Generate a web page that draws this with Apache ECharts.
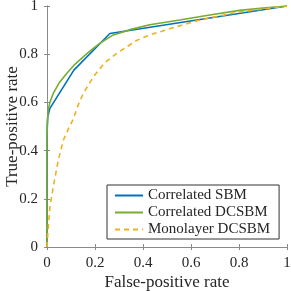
<!DOCTYPE html>
<html><head><meta charset="utf-8">
<script src="https://cdn.jsdelivr.net/npm/echarts@6/dist/echarts.min.js"></script>
<style>html,body{margin:0;padding:0;background:#fff}#c{width:291px;height:291px}</style>
</head><body><div id="c"></div>
<script>
const seriesNames = ['Correlated SBM', 'Correlated DCSBM', 'Monolayer DCSBM'];
const sbmFpr = [0, 0.001, 0.003, 0.012, 0.112, 0.262, 1];
const sbmTpr = [0, 0.50, 0.54, 0.575, 0.734, 0.886, 1];
const dcFpr = [0, 0, 0.002, 0.005, 0.012, 0.026, 0.05, 0.082, 0.115, 0.151, 0.185, 0.22, 0.276, 0.35, 0.428, 0.553, 0.678, 0.802, 0.9, 1];
const dcTpr = [0, 0.45, 0.52, 0.568, 0.60, 0.637, 0.68, 0.72, 0.757, 0.789, 0.818, 0.845, 0.88, 0.903, 0.922, 0.942, 0.963, 0.982, 0.992, 1];
const monoFpr = [0, 0.003, 0.012, 0.026, 0.047, 0.068, 0.089, 0.109, 0.13, 0.151, 0.193, 0.241, 0.29, 0.373, 0.428, 0.539, 0.636, 0.8, 1];
const monoTpr = [0, 0.05, 0.165, 0.249, 0.36, 0.443, 0.49, 0.53, 0.59, 0.637, 0.706, 0.765, 0.803, 0.857, 0.88, 0.914, 0.942, 0.975, 1];
const xTitle = 'False-positive rate';
const yTitle = 'True-positive rate';

const zip = (a, b) => a.map((v, i) => [v, b[i]]);
const font = 'Liberation Serif';
const axisCol = '#8a8a8a';
const txt = '#262626';
const baseAxis = {
  type: 'value', min: 0, max: 1, interval: 0.2,
  axisLine: {show: true, lineStyle: {color: axisCol, width: 1}},
  axisTick: {show: true, inside: true, length: 3, lineStyle: {color: axisCol}},
  splitLine: {show: false}
};
const chart = echarts.init(document.getElementById('c'));
chart.setOption({
  animation: false,
  textStyle: {fontFamily: font},
  grid: {left: 47, right: 4, top: 6, bottom: 44, containLabel: false, outerBoundsMode: 'none'},
  xAxis: [
    Object.assign({}, baseAxis, {position: 'bottom', name: xTitle, nameLocation: 'middle', nameGap: 27, nameMoveOverlap: false,
      nameTextStyle: {fontFamily: font, fontSize: 17, color: txt},
      axisLabel: {fontFamily: font, fontSize: 15, color: txt, margin: 9}}),
    Object.assign({}, baseAxis, {position: 'top', axisLabel: {show: false}})
  ],
  yAxis: [
    Object.assign({}, baseAxis, {position: 'left', name: yTitle, nameLocation: 'middle', nameGap: 26, nameRotate: 90, nameMoveOverlap: false,
      nameTextStyle: {fontFamily: font, fontSize: 17, color: txt},
      axisLabel: {fontFamily: font, fontSize: 15, color: txt, margin: 9}}),
    Object.assign({}, baseAxis, {position: 'right', axisLabel: {show: false}})
  ],
  legend: {
    orient: 'vertical', left: 107, top: 185,
    itemWidth: 28, itemHeight: 10, itemGap: 2,
    padding: [3, 9, 2, 7],
    borderColor: '#333', borderWidth: 1, backgroundColor: '#fff',
    itemStyle: {opacity: 0},
    textStyle: {fontFamily: font, fontSize: 15, color: txt},
    data: seriesNames
  },
  series: [
    {name: seriesNames[0], type: 'line', data: zip(sbmFpr, sbmTpr), showSymbol: false, symbol: 'none',
     lineStyle: {color: '#0072BD', width: 1.6}, itemStyle: {color: '#0072BD'}},
    {name: seriesNames[1], type: 'line', data: zip(dcFpr, dcTpr), showSymbol: false, symbol: 'none',
     lineStyle: {color: '#77AC30', width: 1.6}, itemStyle: {color: '#77AC30'}},
    {name: seriesNames[2], type: 'line', data: zip(monoFpr, monoTpr), showSymbol: false, symbol: 'none',
     lineStyle: {color: '#EDB120', width: 1.6, type: [5, 4]}, itemStyle: {color: '#EDB120'}}
  ]
});
</script></body></html>
